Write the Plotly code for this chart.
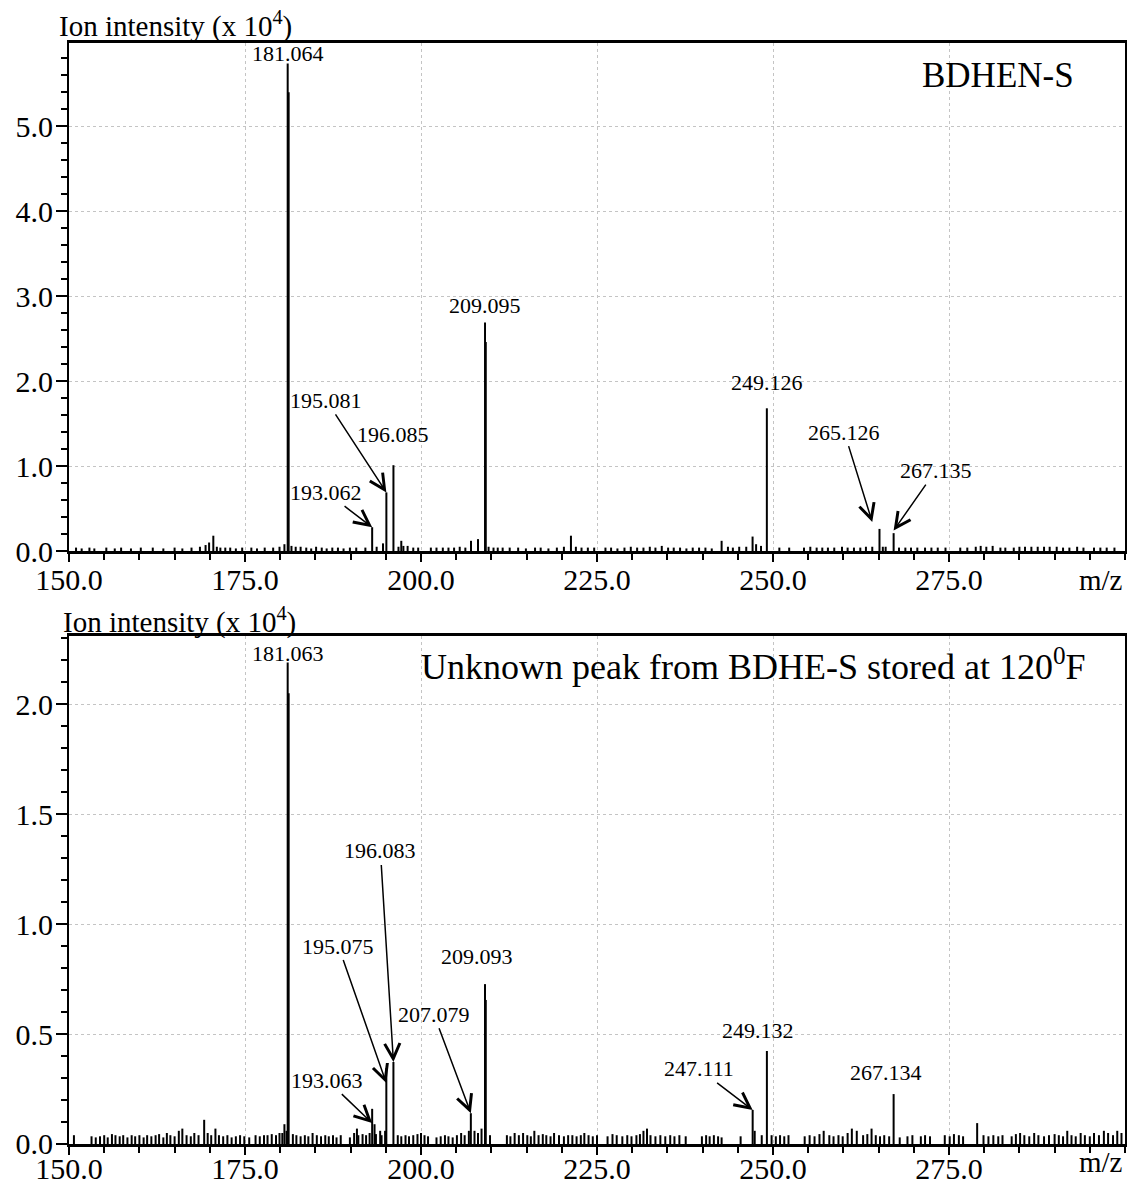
import plotly.graph_objects as go

# ---------------- DATA (m/z, intensity x 10^4) ----------------
# Top panel: BDHEN-S
top_main_mz = [181.064, 181.2, 193.062, 195.081, 196.085, 209.095, 209.2, 249.126, 265.126, 267.135]
top_main_h = [5.74, 5.40, 0.28, 0.69, 1.01, 2.69, 2.46, 1.68, 0.26, 0.21]
top_minor = [(169.9, .10), (170.5, .18), (180.6, .08), (181.6, .06), (182.2, .05), (194.6, .09),
             (197.2, .12), (197.5, .06), (207.1, .12), (208.1, .14), (209.6, .05), (221.3, .18),
             (242.7, .12), (247.1, .17), (247.6, .08), (248.3, .06), (265.6, .05)]
top_noise = [
    (151.0, .04), (151.8, .03), (152.9, .04), (153.6, .03), (155.3, .04), (156.5, .03), (157.4, .04),
    (158.8, .03), (160.2, .04), (161.9, .04), (163.4, .03), (165.0, .04), (166.1, .03), (167.4, .04),
    (168.6, .05), (169.4, .07), (171.0, .05), (171.5, .04), (172.2, .04), (172.9, .04), (173.7, .03),
    (174.6, .04), (175.9, .04), (176.7, .03), (177.8, .04), (179.0, .04), (179.9, .05), (182.9, .05),
    (183.7, .04), (184.4, .03), (185.1, .05), (185.9, .04), (186.6, .03), (187.4, .04), (188.2, .04),
    (189.0, .03), (189.9, .04), (190.8, .04), (192.1, .04), (193.7, .05), (196.8, .05), (198.1, .06),
    (198.9, .04), (199.6, .04), (201.4, .04), (202.2, .04), (203.1, .04), (203.9, .04), (204.7, .04),
    (205.5, .05), (206.3, .04), (210.3, .04), (210.9, .04), (211.6, .04), (212.6, .04), (213.8, .04),
    (214.9, .03), (216.2, .04), (217.0, .04), (218.1, .03), (219.3, .04), (220.3, .05), (222.0, .05),
    (222.8, .04), (223.7, .04), (224.6, .04), (226.2, .04), (227.0, .04), (227.9, .03), (228.9, .04),
    (229.8, .05), (230.7, .04), (231.6, .04), (232.5, .05), (233.3, .04), (234.2, .06), (235.1, .04),
    (235.9, .04), (236.8, .04), (237.7, .03), (238.6, .04), (239.5, .04), (240.4, .04), (241.3, .03),
    (243.6, .05), (244.3, .04), (245.2, .05), (246.2, .05), (250.9, .04), (252.3, .04), (254.4, .04),
    (255.3, .05), (256.2, .04), (257.0, .04), (257.8, .04), (258.7, .04), (259.8, .05), (260.6, .04),
    (261.5, .04), (262.4, .04), (263.2, .05), (264.1, .05), (266.0, .05), (267.9, .04), (268.8, .04),
    (269.6, .04), (270.5, .04), (271.6, .04), (272.5, .04), (273.4, .04), (274.5, .04), (276.6, .04),
    (277.6, .04), (278.8, .05), (279.5, .06), (280.3, .05), (281.2, .06), (282.3, .04), (283.0, .04),
    (284.2, .04), (285.0, .05), (285.8, .05), (286.7, .05), (287.6, .05), (288.5, .05), (289.3, .05),
    (290.3, .05), (291.2, .04), (292.1, .04), (293.2, .05), (294.1, .04), (295.6, .04), (296.5, .04),
    (297.4, .04), (298.5, .04)]
top_labels = ["181.064", "193.062", "195.081", "196.085", "209.095", "249.126", "265.126", "267.135"]
top_label_mz = [181.064, 193.062, 195.081, 196.085, 209.095, 249.126, 264.1, 267.135]
top_label_h = [5.74, 0.28, 0.69, 1.01, 2.69, 1.68, 0.34, 0.24]

# Bottom panel: unknown peak from BDHE-S stored at 120 F
bot_main_mz = [181.063, 181.2, 193.063, 195.075, 196.083, 207.079, 209.093, 209.2, 247.111, 249.132, 267.134]
bot_main_h = [2.19, 2.05, 0.16, 0.345, 0.373, 0.14, 0.727, 0.655, 0.155, 0.423, 0.227]
bot_minor = [(169.2, .11), (180.6, .09), (180.9, .06), (190.9, .07), (193.4, .09), (194.2, .06),
             (206.8, .06), (279.0, .095), (247.4, .06), (261.9, .06), (257.2, .06)]
bot_noise = [
    (150.7, .04), (153.2, .035), (153.8, .03), (154.4, .035), (155.0, .04), (155.5, .03), (156.1, .045),
    (156.6, .04), (157.2, .035), (157.7, .04), (158.3, .03), (158.9, .04), (159.4, .035), (160.0, .04),
    (160.6, .03), (161.1, .04), (161.7, .035), (162.3, .04), (162.8, .045), (163.4, .03), (163.9, .05),
    (164.4, .04), (165.0, .035), (165.6, .06), (166.1, .07), (166.7, .04), (167.3, .035), (167.8, .05),
    (168.4, .04), (169.7, .05), (170.2, .04), (170.8, .07), (171.3, .04), (171.9, .035), (172.5, .04),
    (173.1, .03), (173.7, .035), (174.3, .04), (174.9, .035), (175.6, .03), (176.5, .04), (177.1, .035),
    (177.7, .04), (178.2, .04), (178.8, .045), (179.4, .04), (179.9, .05), (180.3, .05), (181.8, .045),
    (182.3, .04), (182.9, .035), (183.5, .04), (184.0, .035), (184.6, .05), (185.2, .04), (185.8, .035),
    (186.4, .04), (186.9, .035), (187.5, .04), (188.0, .03), (188.6, .04), (189.9, .03), (190.5, .05),
    (191.1, .04), (191.7, .045), (192.2, .04), (192.7, .05), (193.6, .045), (194.4, .04), (194.9, .06),
    (196.7, .04), (197.2, .035), (197.8, .04), (198.3, .035), (198.9, .04), (199.5, .045), (200.0, .05),
    (200.5, .04), (201.0, .035), (202.2, .03), (202.8, .035), (203.4, .04), (203.9, .035), (204.5, .03),
    (205.1, .04), (205.7, .05), (206.2, .04), (207.6, .06), (208.1, .05), (208.6, .07), (209.8, .04),
    (212.2, .04), (212.7, .035), (213.3, .05), (213.9, .04), (214.5, .05), (215.1, .04), (215.6, .035),
    (216.1, .06), (216.7, .04), (217.3, .045), (217.8, .04), (218.4, .035), (218.9, .05), (219.6, .04),
    (220.3, .035), (220.9, .04), (221.5, .04), (222.1, .035), (222.7, .04), (223.2, .05), (223.8, .04),
    (224.4, .035), (225.0, .04), (226.5, .035), (227.2, .045), (227.8, .04), (228.6, .035), (229.3, .04),
    (229.9, .035), (230.6, .04), (231.1, .045), (231.6, .06), (232.1, .07), (232.6, .04), (233.3, .035),
    (234.0, .04), (234.7, .035), (235.4, .04), (236.0, .035), (236.7, .04), (237.6, .035), (239.9, .035),
    (240.5, .04), (241.0, .035), (241.6, .04), (242.2, .035), (242.7, .03), (245.4, .035), (248.4, .04),
    (249.8, .04), (250.4, .035), (251.0, .04), (251.6, .035), (252.2, .04), (254.5, .035), (255.2, .04),
    (255.9, .035), (256.6, .045), (258.0, .04), (258.6, .035), (259.3, .04), (259.9, .035), (260.6, .05),
    (261.2, .07), (262.8, .04), (263.4, .045), (264.0, .07), (264.6, .04), (265.2, .035), (265.8, .04),
    (266.5, .035), (268.0, .03), (269.1, .035), (269.8, .04), (271.0, .035), (271.6, .04), (272.3, .035),
    (274.4, .04), (275.1, .035), (275.7, .045), (276.4, .04), (277.0, .035), (279.9, .04), (280.6, .035),
    (281.3, .04), (282.0, .035), (282.6, .04), (283.9, .035), (284.5, .045), (285.1, .05), (285.7, .04),
    (286.4, .035), (287.1, .05), (287.7, .04), (288.5, .035), (289.2, .04), (290.0, .045), (290.6, .04),
    (291.2, .035), (291.8, .06), (292.4, .04), (293.0, .035), (293.7, .05), (294.3, .04), (295.0, .035),
    (295.6, .05), (296.3, .04), (297.0, .06), (297.6, .05), (298.3, .04), (298.9, .06), (299.5, .05)]
bot_labels = ["181.063", "193.063", "195.075", "196.083", "207.079", "209.093", "247.111", "249.132", "267.134"]
bot_label_mz = [181.063, 193.063, 195.075, 196.083, 207.079, 209.093, 247.111, 249.132, 267.134]
bot_label_h = [2.19, 0.095, 0.277, 0.373, 0.14, 0.727, 0.155, 0.423, 0.227]

x_ticks = [150, 175, 200, 225, 250, 275]
x_ticktext = ["150.0", "175.0", "200.0", "225.0", "250.0", "275.0"]
top_yticks = [0, 1, 2, 3, 4, 5]
top_ytext = ["0.0", "1.0", "2.0", "3.0", "4.0", "5.0"]
bot_yticks = [0, 0.5, 1.0, 1.5, 2.0]
bot_ytext = ["0.0", "0.5", "1.0", "1.5", "2.0"]

top_title = "BDHEN-S"
bot_title = "Unknown peak from BDHE-S stored at 120<sup>0</sup>F"
y_title = "Ion intensity (x 10<sup>4</sup>)"
x_title = "m/z"

# ---------------- STYLE ----------------
FONT = "Liberation Serif, Times New Roman, serif"
# label placement: (arrow?, ax px, ay px) per label
top_label_style = [(False, 0, 10), (True, -46, -35), (True, -60, -92), (False, 0, 31),
                   (False, 0, 17), (False, 0, 26), (True, -28, -90), (True, 42, -60)]
bot_label_style = [(False, 0, 9), (True, -45, -43), (True, -48, -137), (True, -13, -211),
                   (True, -37, -99), (False, -8, 28), (True, -54, -41), (False, -9, 20), (False, -8, 22)]


def stems(mz, h):
    xs, ys = [], []
    for m, v in zip(mz, h):
        xs += [m, m, None]
        ys += [0, v, None]
    return xs, ys


fig = go.Figure()

panels = [
    (top_main_mz, top_main_h, top_minor, top_noise, "x", "y"),
    (bot_main_mz, bot_main_h, bot_minor, bot_noise, "x2", "y2"),
]
for main_mz, main_h, minor, noise, xa, ya in panels:
    mz = list(main_mz) + [p[0] for p in minor] + [p[0] for p in noise]
    hh = list(main_h) + [p[1] for p in minor] + [p[1] for p in noise]
    xs, ys = stems(mz, hh)
    fig.add_trace(go.Scatter(x=xs, y=ys, mode="lines", line=dict(color="black", width=2),
                             xaxis=xa, yaxis=ya, showlegend=False, hoverinfo="skip"))

annotations = []
for labels, lmz, lh, styles, xa, ya in [
    (top_labels, top_label_mz, top_label_h, top_label_style, "x", "y"),
    (bot_labels, bot_label_mz, bot_label_h, bot_label_style, "x2", "y2"),
]:
    for t, m, v, (arrow, dx, dy) in zip(labels, lmz, lh, styles):
        if arrow:
            annotations.append(dict(x=m, y=v, xref=xa, yref=ya, text=t, showarrow=True,
                                    ax=dx, ay=dy, axref="pixel", ayref="pixel",
                                    arrowhead=5, arrowsize=2.0, arrowwidth=1.5, arrowcolor="black",
                                    font=dict(family=FONT, size=22, color="black")))
        else:
            annotations.append(dict(x=m, y=v, xref=xa, yref=ya, text=t, showarrow=False,
                                    xshift=dx, yshift=dy, xanchor="center", yanchor="middle",
                                    font=dict(family=FONT, size=22, color="black")))

# titles and axis labels
annotations += [
    dict(x=0.88, y=0.937, xref="x domain", yref="y domain", text=top_title, showarrow=False,
         xanchor="center", yanchor="middle", font=dict(family=FONT, size=35, color="black")),
    dict(x=0.648, y=0.943, xref="x2 domain", yref="y2 domain", text=bot_title, showarrow=False,
         xanchor="center", yanchor="middle", font=dict(family=FONT, size=36, color="black")),
    dict(x=-0.011, y=1.036, xref="x domain", yref="y domain", text=y_title, showarrow=False,
         xanchor="left", yanchor="middle", font=dict(family=FONT, size=29, color="black")),
    dict(x=-0.008, y=1.03, xref="x2 domain", yref="y2 domain", text=y_title, showarrow=False,
         xanchor="left", yanchor="middle", font=dict(family=FONT, size=29, color="black")),
    dict(x=1.0, y=-0.057, xref="x domain", yref="y domain", text=x_title, showarrow=False,
         xanchor="right", yanchor="middle", font=dict(family=FONT, size=29, color="black")),
    dict(x=1.0, y=-0.035, xref="x2 domain", yref="y2 domain", text=x_title, showarrow=False,
         xanchor="right", yanchor="middle", font=dict(family=FONT, size=29, color="black")),
]


def xaxis_cfg(anchor, standoff):
    return dict(anchor=anchor, domain=[0, 1], range=[150, 300], tickmode="array",
                tickvals=x_ticks, ticktext=x_ticktext, ticks="outside", ticklen=8, tickwidth=2,
                tickcolor="black", minor=dict(dtick=5, tick0=150, ticks="outside", ticklen=6,
                                              tickwidth=1.5, tickcolor="black", showgrid=False),
                showgrid=True, gridcolor="#c4c4c4", griddash="dot", gridwidth=1,
                showline=True, linecolor="black", linewidth=2.5, mirror=True, zeroline=False,
                automargin=False, ticklabelstandoff=standoff,
                tickfont=dict(family=FONT, size=30, color="black"))


def yaxis_cfg(anchor, domain, rng, tv, tt, mdt):
    return dict(anchor=anchor, domain=domain, range=rng, tickmode="array", tickvals=tv,
                ticktext=tt, ticks="outside", ticklen=11, tickwidth=2, tickcolor="black",
                minor=dict(dtick=mdt, tick0=0, ticks="outside", ticklen=6, tickwidth=1.5,
                           tickcolor="black", showgrid=False),
                showgrid=True, gridcolor="#c4c4c4", griddash="dot", gridwidth=1,
                showline=True, linecolor="black", linewidth=2, mirror=True, zeroline=False,
                automargin=False, ticklabelstandoff=-3,
                tickfont=dict(family=FONT, size=30, color="black"))


fig.update_layout(
    width=1127, height=1188,
    margin=dict(l=69, r=2, t=43, b=44, autoexpand=False),
    paper_bgcolor="white", plot_bgcolor="white",
    xaxis=xaxis_cfg("y", -8),
    yaxis=yaxis_cfg("x", [0.5386, 1.0], [0, 5.98], top_yticks, top_ytext, 0.2),
    xaxis2=xaxis_cfg("y2", -12),
    yaxis2=yaxis_cfg("x2", [0.0, 0.4614], [0, 2.31], bot_yticks, bot_ytext, 0.1),
    annotations=annotations,
    showlegend=False,
)

fig.write_html("out.html")
